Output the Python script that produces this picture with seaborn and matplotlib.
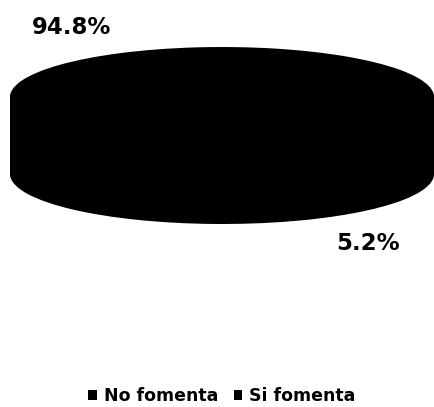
import matplotlib
matplotlib.use("Agg")
import matplotlib.pyplot as plt
import seaborn as sns
import numpy as np

# Survey answers and their shares (percent)
categories = ["No fomenta", "Si fomenta"]
shares = [94.8, 5.2]
slice_colors = ["#000000", "#000000"]

sns.set_theme(style="white")
plt.rcParams["font.family"] = ["DejaVu Sans"]
plt.rcParams["text.color"] = "black"

W, H = 435, 407
fig = plt.figure(figsize=(W / 100, H / 100), dpi=100)
ax = fig.add_axes([0, 0, 1, 1])

# Ellipse geometry of the tilted pie, in pixels
rx, ry = 212.0, 50.0
cx, cy_top = 222.0, 97.0
depth = 77.0

# Extruded side: stack of pies from the base up to the top face
handles = None
for d in np.linspace(depth / ry, 0.0, 60):
    wedges, _ = ax.pie(shares, colors=slice_colors, radius=1.0, center=(0, -d),
                       startangle=-71, counterclock=False,
                       wedgeprops=dict(linewidth=0, antialiased=True))
    handles = wedges

# Data units: one x unit = rx px, one y unit = ry px
ax.set_xlim(-cx / rx, (W - cx) / rx)
ax.set_ylim(-(H - cy_top) / ry, cy_top / ry)
ax.set_aspect("auto")
ax.axis("off")

# Percentage labels
label_pos = [(72, 27), (368, 243)]
for v, (px, py) in zip(shares, label_pos):
    fig.text(px / W, 1 - py / H, f"{v:.1f}%", ha="center", va="center",
             fontsize=16.5, fontweight="bold", color="black")

leg = fig.legend(handles, categories, loc="center",
                 bbox_to_anchor=(222 / W, 1 - 396 / H), ncol=2, frameon=False,
                 handlelength=0.5, handleheight=0.5, handletextpad=0.4,
                 columnspacing=0.9, prop={"weight": "bold", "size": 12.5})
for t in leg.get_texts():
    t.set_color("black")

fig.savefig("out.png", dpi=100, facecolor="white")
